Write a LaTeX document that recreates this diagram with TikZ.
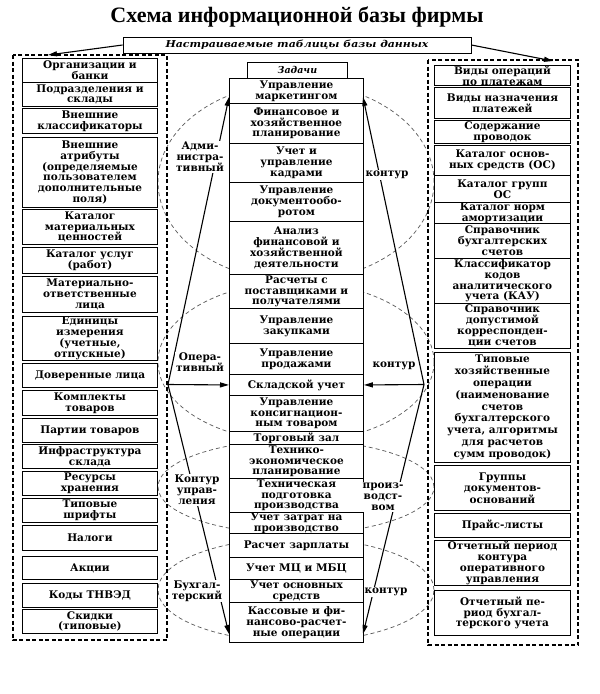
\documentclass[tikz,border=0pt]{standalone}
\usepackage{fontspec}
\setmainfont{DejaVu Serif}
\newfontfamily\titlefont{Liberation Serif}
\newfontfamily\hdrfont{DejaVu Serif}[FakeStretch=1.15]
\usetikzlibrary{arrows.meta}
\tikzset{
  dbcell/.style={draw, line width=0.9pt, fill=white, align=center, inner sep=0pt,
    anchor=north west, font=\bfseries\fontsize{10.5}{10.8}\selectfont},
  lbl/.style={fill=white, align=center, inner sep=1pt, font=\bfseries\fontsize{10.5}{11}\selectfont},
  dframe/.style={line width=1.4pt, dash pattern=on 4pt off 2.5pt},
  contour/.style={black!65, line width=0.7pt, dash pattern=on 4pt off 3pt},
  arr/.style={line width=1.1pt, -{Triangle[length=9pt,width=5pt]}},
}
\newcommand\cellbox[6]{\node[dbcell, minimum width=#4pt, minimum height=#5pt] (#1) at (#2,#3) {#6};}
\begin{document}
\begin{tikzpicture}[x=1pt,y=-1pt]
\path[use as bounding box, fill=white] (0,0) rectangle (600,694);
\node[font=\titlefont\bfseries\fontsize{22}{24}\selectfont] (title) at (297,17) {Схема информационной базы фирмы};

% contour ellipses
\draw[contour] (296,182) ellipse [x radius=138pt, y radius=99pt];
\draw[contour] (296,362) ellipse [x radius=138pt, y radius=80pt];
\draw[contour] (296,487) ellipse [x radius=138pt, y radius=47pt];
\draw[contour] (296,590) ellipse [x radius=138pt, y radius=52pt];

% frames
\draw[dframe] (13,55) rectangle (167,640);
\draw[dframe] (428,60) rectangle (578,645);

% header
\node[draw, line width=0.9pt, fill=white, minimum width=348pt, minimum height=16pt, inner sep=0pt,
  font=\hdrfont\bfseries\itshape\fontsize{9.5}{10}\selectfont] (hdr) at (297,45) {Настраиваемые таблицы базы данных};
\coordinate (ltop) at (48,55);
\coordinate (rtop) at (553,61);
\draw[arr] (hdr.west) -- (ltop);
\draw[arr] (hdr.east) -- (rtop);

% left column
\cellbox{L1}{22}{58}{135}{24}{Организации и\\банки}
\cellbox{L2}{22}{82}{135}{24}{Подразделения и\\склады}
\cellbox{L3}{22}{108}{135}{25}{Внешние\\классификаторы}
\cellbox{L4}{22}{137}{135}{70}{Внешние\\атрибуты\\(определяемые\\пользователем\\дополнительные\\поля)}
\cellbox{L5}{22}{209}{135}{35}{Каталог\\материальных\\ценностей}
\cellbox{L6}{22}{247}{135}{26}{Каталог услуг\\(работ)}
\cellbox{L7}{22}{276}{135}{36}{Материально-\\ответственные\\лица}
\cellbox{L8}{22}{316}{135}{44}{Единицы\\измерения\\(учетные,\\отпускные)}
\cellbox{L9}{22}{363}{135}{24}{Доверенные лица}
\cellbox{L10}{22}{390}{135}{25}{Комплекты\\товаров}
\cellbox{L11}{22}{418}{135}{24}{Партии товаров}
\cellbox{L12}{22}{444}{135}{24}{Инфраструктура\\склада}
\cellbox{L13}{22}{471}{135}{24}{Ресурсы\\хранения}
\cellbox{L14}{22}{498}{135}{24}{Типовые\\шрифты}
\cellbox{L15}{22}{525}{135}{25}{Налоги}
\cellbox{L16}{22}{556}{135}{23}{Акции}
\cellbox{L17}{22}{583}{135}{24}{Коды ТНВЭД}
\cellbox{L18}{22}{609}{135}{24}{Скидки\\(типовые)}

% middle column
\node[dbcell, minimum width=100pt, minimum height=16pt, font=\bfseries\itshape\fontsize{9.5}{10}\selectfont] (M0) at (247,62) {Задачи};
\cellbox{M1}{229}{78}{134}{25}{Управление\\маркетингом}
\cellbox{M2}{229}{103}{134}{40}{Финансовое и\\хозяйственное\\планирование}
\cellbox{M3}{229}{143}{134}{39}{Учет и\\управление\\кадрами}
\cellbox{M4}{229}{182}{134}{39}{Управление\\документообо-\\ротом}
\cellbox{M5}{229}{221}{134}{53}{Анализ\\финансовой и\\хозяйственной\\деятельности}
\cellbox{M6}{229}{274}{134}{34}{Расчеты с\\поставщиками и\\получателями}
\cellbox{M7}{229}{308}{134}{35}{Управление\\закупками}
\cellbox{M8}{229}{343}{134}{31}{Управление\\продажами}
\cellbox{M9}{229}{374}{134}{21}{Складской учет}
\cellbox{M10}{229}{395}{134}{36}{Управление\\консигнацион-\\ным товаром}
\cellbox{M11}{229}{431}{134}{13}{Торговый зал}
\cellbox{M12}{229}{444}{134}{34}{Технико-\\экономическое\\планирование}
\cellbox{M13}{229}{478}{134}{34}{Техническая\\подготовка\\производства}
\cellbox{M14}{229}{512}{134}{21}{Учет затрат на\\производство}
\cellbox{M15}{229}{533}{134}{24}{Расчет зарплаты}
\cellbox{M16}{229}{557}{134}{22}{Учет МЦ и МБЦ}
\cellbox{M17}{229}{579}{134}{23}{Учет основных\\средств}
\cellbox{M18}{229}{602}{134}{40}{Кассовые и фи-\\нансово-расчет-\\ные операции}

% right column
\cellbox{R1}{434}{65}{136}{20}{Виды операций\\по платежам}
\cellbox{R2}{434}{87}{136}{31}{Виды назначения\\платежей}
\cellbox{R3}{434}{120}{136}{23}{Содержание\\проводок}
\cellbox{R4}{434}{145}{136}{30}{Каталог основ-\\ных средств (ОС)}
\cellbox{R5}{434}{175}{136}{27}{Каталог групп\\ОС}
\cellbox{R6}{434}{202}{136}{21}{Каталог норм\\амортизации}
\cellbox{R7}{434}{223}{136}{35}{Справочник\\бухгалтерских\\счетов}
\cellbox{R8}{434}{258}{136}{45}{Классификатор\\кодов\\аналитического\\учета (КАУ)}
\cellbox{R9}{434}{303}{136}{45}{Справочник\\допустимой\\корреспонден-\\ции счетов}
\node[dbcell, minimum width=136pt, minimum height=110pt, font=\bfseries\fontsize{10.5}{11.8}\selectfont] (R10) at (434,352) {Типовые\\хозяйственные\\операции\\(наименование\\счетов\\бухгалтерского\\учета, алгоритмы\\для расчетов\\сумм проводок)};
\cellbox{R11}{434}{465}{136}{45}{Группы\\документов-\\оснований}
\cellbox{R12}{434}{513}{136}{24}{Прайс-листы}
\cellbox{R13}{434}{540}{136}{45}{Отчетный период\\контура\\оперативного\\управления}
\cellbox{R14}{434}{590}{136}{45}{Отчетный пе-\\риод бухгал-\\терского учета}

% connectors
\coordinate (LA) at (168,384.5);
\coordinate (RA) at (424,384.5);
\coordinate (tipLT) at (229,97);
\coordinate (tipRT) at (363,97);
\coordinate (tipLB) at (229,634);
\coordinate (tipRB) at (363,634);
\draw[arr] (LA) -- (tipLT);
\draw[arr] (LA) -- (tipLB);
\draw[arr] (LA) -- (M9.west);
\draw[arr] (RA) -- (tipRT);
\draw[arr] (RA) -- (tipRB);
\draw[arr] (RA) -- (M9.east);

% contour labels
\node[lbl] (la1) at (200,157) {Адми-\\нистра-\\тивный};
\node[lbl] (la2) at (200,362) {Опера-\\тивный};
\node[lbl] (la3) at (197,490) {Контур\\управ-\\ления};
\node[lbl] (la4) at (197,591) {Бухгал-\\терский};
\node[lbl] (ra1) at (387,175) {контур};
\node[lbl] (ra2) at (394,366) {контур};
\node[lbl] (ra3) at (383,497) {произ-\\водст-\\вом};
\node[lbl] (ra4) at (386,592) {контур};
\end{tikzpicture}
\end{document}
